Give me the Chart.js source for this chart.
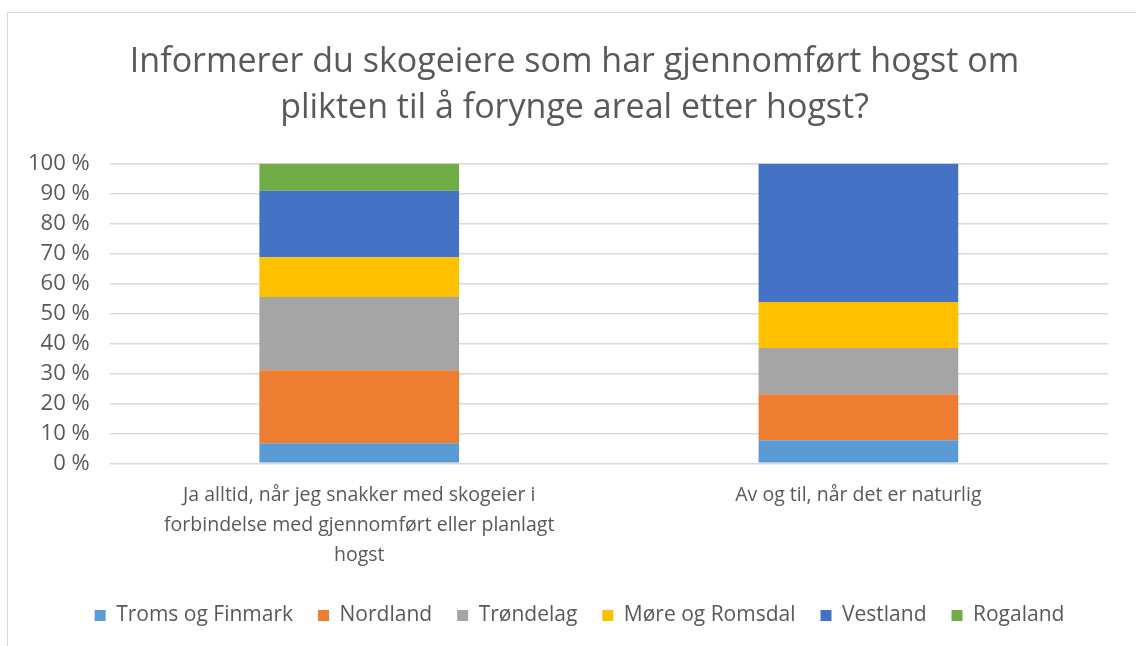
<!DOCTYPE html>
<html>
<head>
<meta charset="utf-8">
<script src="https://cdn.jsdelivr.net/npm/chart.js@4"></script>
<style>
  body { margin: 0; background: #fff; }
  #frame {
    position: absolute; left: 7px; top: 12px;
    width: 1140px; height: 650px;
    border: 1px solid #d9d9d9; box-sizing: border-box;
  }
  #wrap { position: absolute; left: 0; top: 0; width: 1136px; height: 646px; }
</style>
</head>
<body>
<div id="frame"></div>
<div id="wrap"><canvas id="myChart"></canvas></div>
<script>
// categories (x axis)
var categories = [
  ["Ja alltid, når jeg snakker med skogeier i", "forbindelse med gjennomført eller planlagt", "hogst"],
  "Av og til, når det er naturlig"
];

// share of answers per region, in %
var tromsFinmark = [6.7, 7.7];
var nordland = [24.4, 15.4];
var trondelag = [24.4, 15.4];
var moreRomsdal = [13.3, 15.4];
var vestland = [22.2, 46.1];
var rogaland = [9.0, 0];

var yTicks = [0, 10, 20, 30, 40, 50, 60, 70, 80, 90, 100];

var textGray = "#595959";
var fontName = "'Open Sans', sans-serif";

function series(label, values, color) {
  return {
    label: label,
    data: values,
    backgroundColor: color,
    borderWidth: 0,
    barPercentage: 0.4,
    categoryPercentage: 1.0
  };
}

// center title and legend on the whole frame, not on the plot
var centerOnFrame = {
  id: "centerOnFrame",
  afterLayout: function (chart) {
    chart.titleBlock.left = 7;
    chart.titleBlock.right = 1142;
    chart.legend.left = 20;
    chart.legend.right = 1139;
  }
};

var ctx = document.getElementById("myChart").getContext("2d");

var myChart = new Chart(ctx, {
  type: "bar",
  data: {
    labels: categories,
    datasets: [
      series("Troms og Finmark", tromsFinmark, "#5b9bd5"),
      series("Nordland", nordland, "#ed7d31"),
      series("Trøndelag", trondelag, "#a5a5a5"),
      series("Møre og Romsdal", moreRomsdal, "#ffc000"),
      series("Vestland", vestland, "#4472c4"),
      series("Rogaland", rogaland, "#70ad47")
    ]
  },
  plugins: [centerOnFrame],
  options: {
    responsive: true,
    maintainAspectRatio: false,
    animation: false,
    layout: { padding: { left: 8, right: 28, top: 39, bottom: 10 } },
    plugins: {
      title: {
        display: true,
        text: ["Informerer du skogeiere som har gjennomført hogst om", "plikten til å forynge areal etter hogst?"],
        color: textGray,
        font: { family: fontName, size: 34, weight: "normal", lineHeight: 1.35 },
        padding: { top: 0, bottom: 33 }
      },
      legend: {
        position: "bottom",
        labels: {
          color: textGray,
          font: { family: fontName, size: 21 },
          boxWidth: 11,
          boxHeight: 11,
          padding: 25
        }
      },
      tooltip: { enabled: false }
    },
    scales: {
      x: {
        stacked: true,
        grid: { display: false },
        border: { display: false },
        ticks: {
          color: textGray,
          font: { family: fontName, size: 19.5, lineHeight: 1.55 },
          maxRotation: 0,
          padding: 9
        }
      },
      y: {
        stacked: true,
        min: 0,
        max: 100,
        afterBuildTicks: function (axis) {
          axis.ticks = yTicks.map(function (v) { return { value: v }; });
        },
        grid: { color: "#d9d9d9", lineWidth: 1.5, drawTicks: false },
        border: { display: false },
        ticks: {
          color: textGray,
          font: { family: fontName, size: 22 },
          padding: 20,
          callback: function (v) { return v + " %"; }
        }
      }
    }
  }
});
</script>
</body>
</html>
